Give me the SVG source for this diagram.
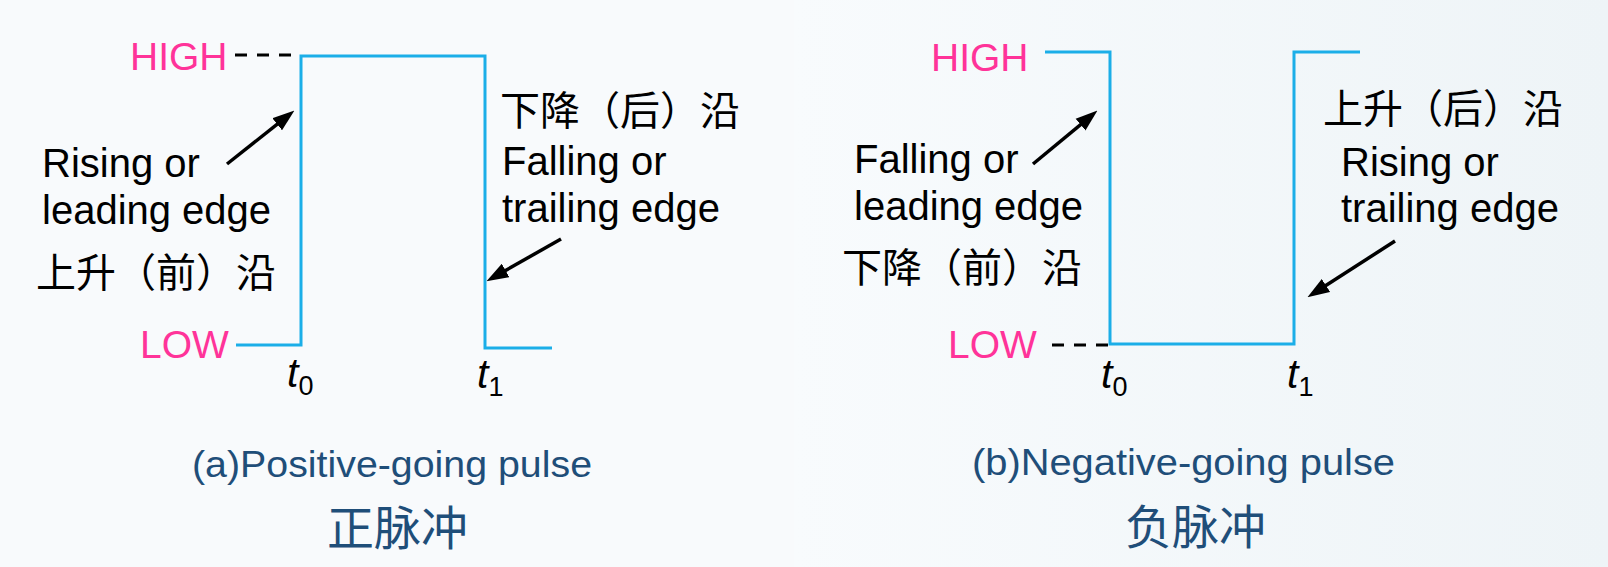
<svg xmlns="http://www.w3.org/2000/svg" width="1608" height="567" viewBox="0 0 1608 567">
<defs>
<linearGradient id="bgR" x1="0" y1="0" x2="1" y2="0">
<stop offset="0" stop-color="#F8FBFD"/>
<stop offset="1" stop-color="#EEF4F7"/>
</linearGradient>
<marker id="ah" markerUnits="userSpaceOnUse" markerWidth="22" markerHeight="16" refX="14" refY="7" orient="auto" viewBox="0 0 20 14">
<path d="M0,0 L20,7 L0,14 z" fill="#000"/>
</marker>
<style>
.lvl{font-family:"Liberation Sans",Arial,sans-serif;font-size:39px;fill:#FF3399}
.lbl{font-family:"Liberation Sans",Arial,sans-serif;font-size:40px;fill:#000}
.cjk{font-family:"Noto Sans CJK SC","Liberation Sans",sans-serif;font-size:40px;fill:#000}
.tm{font-family:"Liberation Sans",Arial,sans-serif;font-size:41px;font-style:italic;fill:#000}
.sub{font-family:"Liberation Sans",Arial,sans-serif;font-size:27px;font-style:normal}
.cap{font-family:"Liberation Sans",Arial,sans-serif;font-size:37px;fill:#1F4E79}
.capc{font-family:"Noto Sans CJK SC","Liberation Sans",sans-serif;font-size:47px;fill:#1F4E79}
.sig{fill:none;stroke:#1BAEE8;stroke-width:3}
.dash{fill:none;stroke:#000;stroke-width:3;stroke-dasharray:12 10}
.arr{fill:none;stroke:#000;stroke-width:3.5;marker-end:url(#ah)}
</style>
</defs>
<rect x="0" y="0" width="794" height="567" fill="#F8FAFC"/>
<rect x="794" y="0" width="814" height="567" fill="url(#bgR)"/>

<g id="connectors">
<path class="dash" d="M235,55 H295"/>
<path class="dash" d="M1052,345 H1110"/>
<line class="arr" x1="227" y1="164" x2="289.3" y2="114.7"/>
<line class="arr" x1="561" y1="239" x2="492.2" y2="278"/>
<line class="arr" x1="1033" y1="164" x2="1092.4" y2="114.8"/>
<line class="arr" x1="1395" y1="241" x2="1313" y2="293.8"/>
</g>

<g id="pulse-a">
<path class="sig" d="M236,345 H301 V56 H485 V348 H552"/>
<text class="lvl" x="130" y="70">HIGH</text>
<text class="lvl" x="140" y="358">LOW</text>
<text class="lbl" x="42" y="177">Rising or</text>
<text class="lbl" x="42" y="224">leading edge</text>
<text class="cjk" x="36" y="287">上升（前）沿</text>
<text class="cjk" x="500" y="125">下降（后）沿</text>
<text class="lbl" x="502" y="175">Falling or</text>
<text class="lbl" x="502" y="222">trailing edge</text>
<text class="tm" x="287" y="387">t<tspan class="sub" dy="8">0</tspan></text>
<text class="tm" x="477" y="388">t<tspan class="sub" dy="8">1</tspan></text>
<text class="cap" x="192" y="477" textLength="400" lengthAdjust="spacingAndGlyphs">(a)Positive-going pulse</text>
<text class="capc" x="327" y="545">正脉冲</text>
</g>

<g id="pulse-b">
<path class="sig" d="M1045,52 H1110 V344 H1294 V52 H1360"/>
<text class="lvl" x="931" y="71">HIGH</text>
<text class="lvl" x="948" y="358">LOW</text>
<text class="lbl" x="854" y="173">Falling or</text>
<text class="lbl" x="854" y="220">leading edge</text>
<text class="cjk" x="842" y="282">下降（前）沿</text>
<text class="cjk" x="1323" y="123">上升（后）沿</text>
<text class="lbl" x="1341" y="176">Rising or</text>
<text class="lbl" x="1341" y="222">trailing edge</text>
<text class="tm" x="1101" y="388">t<tspan class="sub" dy="8">0</tspan></text>
<text class="tm" x="1287" y="388">t<tspan class="sub" dy="8">1</tspan></text>
<text class="cap" x="972" y="475" textLength="423" lengthAdjust="spacingAndGlyphs">(b)Negative-going pulse</text>
<text class="capc" x="1125" y="544">负脉冲</text>
</g>
</svg>
